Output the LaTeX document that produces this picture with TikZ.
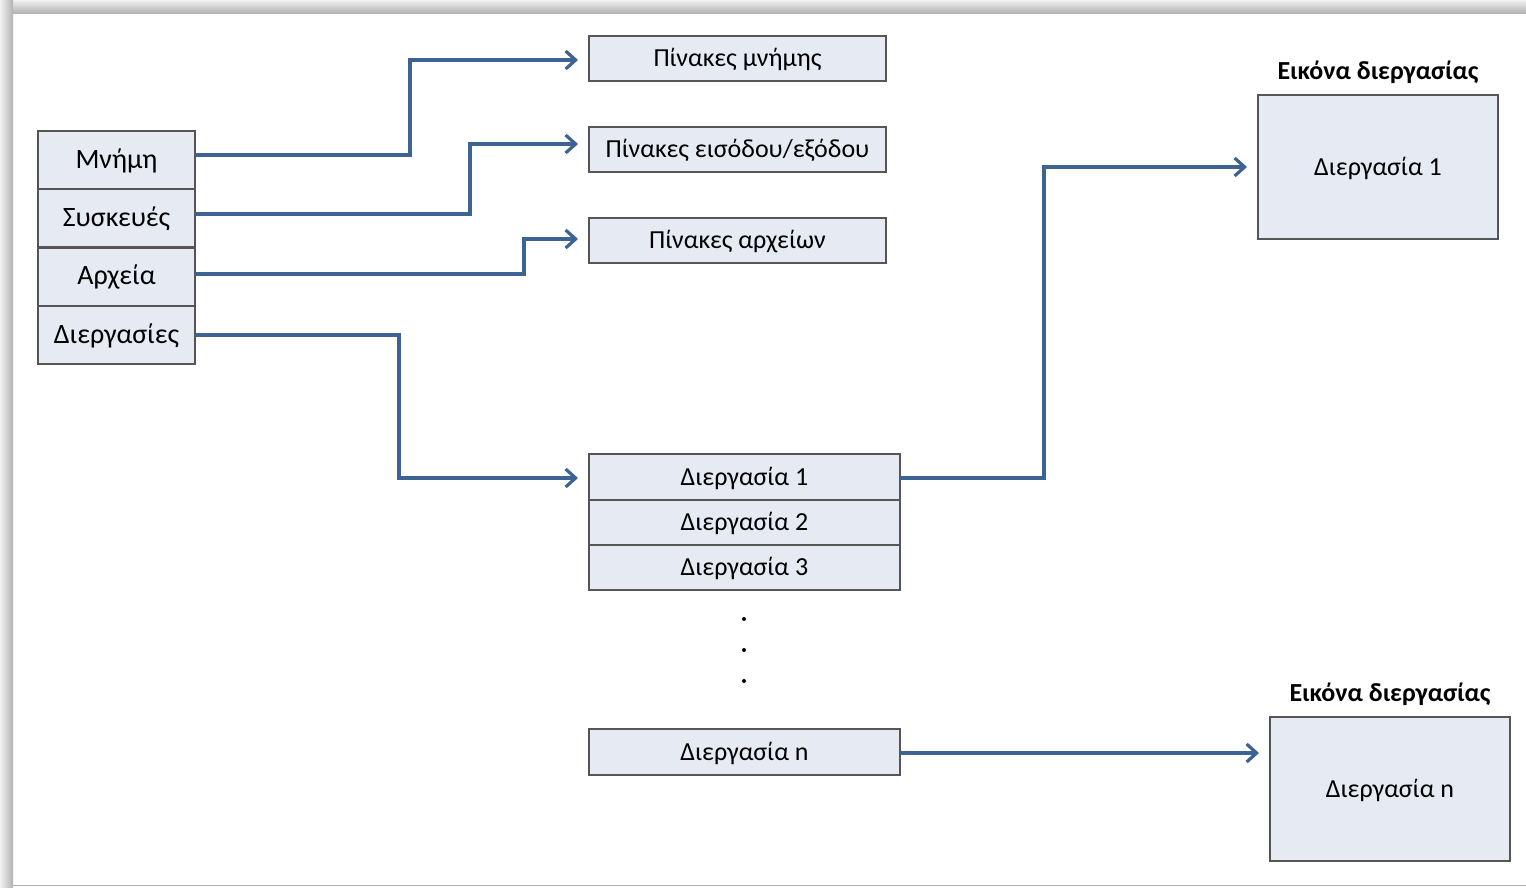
\documentclass[tikz,border=0pt]{standalone}
\usepackage{fontspec}
\setmainfont{Carlito}
\usetikzlibrary{arrows.meta,calc}
\definecolor{boxfill}{RGB}{230,235,243}
\definecolor{boxline}{RGB}{85,85,85}
\definecolor{conncol}{RGB}{61,99,148}
\begin{document}
\begin{tikzpicture}[x=1pt,y=-1pt,
  cell/.style={draw=boxline,line width=2pt,fill=boxfill,inner sep=0pt,outer sep=0pt,font=\fontsize{26}{30}\selectfont,text depth=2pt},
  lcell/.style={cell,font=\fontsize{28}{32}\selectfont,text depth=3pt,minimum width=157pt,minimum height=58pt},
  conn/.style={draw=conncol,line width=3.2pt,-{Straight Barb[length=10pt,width=18pt,line width=3.2pt]},shorten >=11pt},
  title/.style={font=\fontsize{26}{30}\selectfont\bfseries,inner sep=0pt}]
\useasboundingbox (0,0) rectangle (1526,887);
% frame
\fill[white] (0,0) rectangle (1526,887);
\shade[top color=gray!10,bottom color=gray!60] (0,0) rectangle (1526,13);
\shade[left color=gray!10,right color=gray!60] (0,0) rectangle (13,887);
\draw[gray!60,line width=1.5pt] (13,885.5) -- (1526,885.5);
% left column
\node[lcell] (mem) at (116.5,160) {Μνήμη};
\node[lcell] (dev) at (116.5,218) {Συσκευές};
\node[lcell] (fil) at (116.5,276.5) {Αρχεία};
\node[lcell] (prc) at (116.5,335) {Διεργασίες};
% tables
\node[cell,minimum width=297pt,minimum height=45pt] (pm) at (737.5,58.5) {Πίνακες μνήμης};
\node[cell,minimum width=297pt,minimum height=45pt] (pio) at (737.5,149.5) {Πίνακες εισόδου/εξόδου};
\node[cell,minimum width=297pt,minimum height=45pt] (pf) at (737.5,240.5) {Πίνακες αρχείων};
% process list
\node[cell,minimum width=311pt,minimum height=46pt] (p1) at (744.5,477) {Διεργασία 1};
\node[cell,minimum width=311pt,minimum height=45pt] (p2) at (744.5,522.5) {Διεργασία 2};
\node[cell,minimum width=311pt,minimum height=45pt] (p3) at (744.5,567.5) {Διεργασία 3};
\node[cell,minimum width=311pt,minimum height=46pt] (pn) at (744.5,752) {Διεργασία n};
\foreach \yy/\nm in {619/d1,650/d2,681/d3}
  \fill (744,\yy) circle (2pt) coordinate (\nm);
% process images
\node[cell,minimum width=240pt,minimum height=144pt] (img1) at (1378,167) {Διεργασία 1};
\node[title,anchor=base] (t1) at (1378,79) {Εικόνα διεργασίας};
\node[cell,minimum width=240pt,minimum height=144pt] (imgn) at (1390,789) {Διεργασία n};
\node[title,anchor=base] (tn) at (1390,701) {Εικόνα διεργασίας};
% connectors
\draw[conn] ([yshift=5pt]mem.east) -- ++(215,0) |- ([yshift=-1.5pt]pm.west);
\draw[conn] ([yshift=4pt]dev.east) -- ++(275,0) |- ([yshift=5.5pt]pio.west);
\draw[conn] ([yshift=2.5pt]fil.east) -- ++(329,0) |- ([yshift=1.5pt]pf.west);
\draw[conn] (prc.east) -- ++(204,0) |- ([yshift=-1pt]p1.west);
\draw[conn] ([yshift=-1pt]p1.east) -- ++(144,0) |- (img1.west);
\draw[conn] ([yshift=-1pt]pn.east) -- ([yshift=-1pt]pn.east -| imgn.west);
\end{tikzpicture}
\end{document}
